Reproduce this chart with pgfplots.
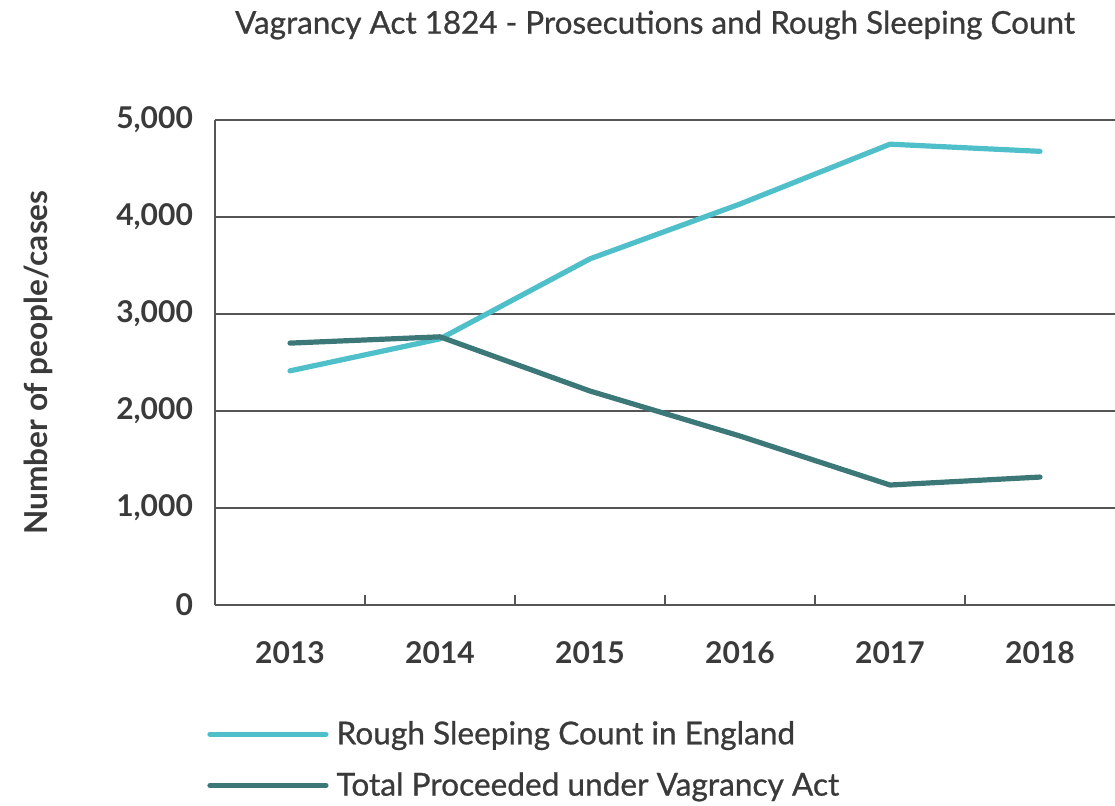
\documentclass[border=0pt]{standalone}
\usepackage{pgfplots}
\pgfplotsset{compat=1.18}
\usepackage{fontspec}
\setmainfont{Lato}
\newfontfamily\medfont[FakeBold=0.8]{Lato}
\definecolor{cyanline}{HTML}{4FBFC9}
\definecolor{tealline}{HTML}{3D7878}
\definecolor{txt}{HTML}{3A3A3A}
\definecolor{axcol}{HTML}{555555}
\begin{document}
\begin{tikzpicture}
\path[use as bounding box] (0,0) rectangle (557.5pt,402.5pt);
\node[text=txt, font=\fontsize{15.7pt}{18pt}\medfont] at (327.5pt,390pt) {Vagrancy Act 1824 - Prosecutions and Rough Sleeping Count};
\begin{axis}[
  at={(107.5pt,100pt)}, anchor=south west,
  width=450pt, height=242.5pt, scale only axis,
  xmin=-0.5, xmax=5.5, ymin=0, ymax=5000,
  axis x line=bottom, axis y line=left,
  axis line style={-, axcol, line width=0.8pt},
  xtick={0,1,2,3,4,5},
  xticklabels={2013,2014,2015,2016,2017,2018},
  minor xtick={0.5,1.5,2.5,3.5,4.5},
  major tick length=0pt,
  minor tick length=5pt,
  tick align=inside,
  minor tick style={axcol, line width=0.8pt},
  ytick={0,1000,2000,3000,4000,5000},
  yticklabels={0,{1,000},{2,000},{3,000},{4,000},{5,000}},
  ymajorgrids,
  grid style={axcol, line width=0.6pt},
  x tick label style={font=\fontsize{15pt}{17pt}\selectfont\bfseries, text=txt, yshift=-14.5pt},
  y tick label style={font=\fontsize{15pt}{17pt}\selectfont\bfseries, text=txt, xshift=-7.5pt},
  ylabel={Number of people/cases},
  ylabel style={font=\fontsize{15.8pt}{17pt}\selectfont\bfseries, text=txt,
    at={(axis description cs:-0.196,0.5)}, anchor=center},
  clip=false,
  legend style={draw=none, fill=none, at={(-0.0156,-0.222)}, anchor=north west,
    font=\fontsize{15.8pt}{18pt}\medfont, text=txt, row sep=8.5pt,
    nodes={inner xsep=4pt}},
  legend cell align=left,
  legend image code/.code={\draw[#1, line cap=round] (0pt,0pt) -- (58pt,0pt);},
]
\addplot[cyanline, line width=2.6pt, line cap=round, line join=round] coordinates {
 (0,2414) (1,2744) (2,3569) (3,4134) (4,4751) (5,4677)};
\addlegendentry{Rough Sleeping Count in England}
\addplot[tealline, line width=2.6pt, line cap=round, line join=round] coordinates {
 (0,2700) (1,2765) (2,2206) (3,1742) (4,1237) (5,1319)};
\addlegendentry{Total Proceeded under Vagrancy Act}
\end{axis}
\end{tikzpicture}
\end{document}
